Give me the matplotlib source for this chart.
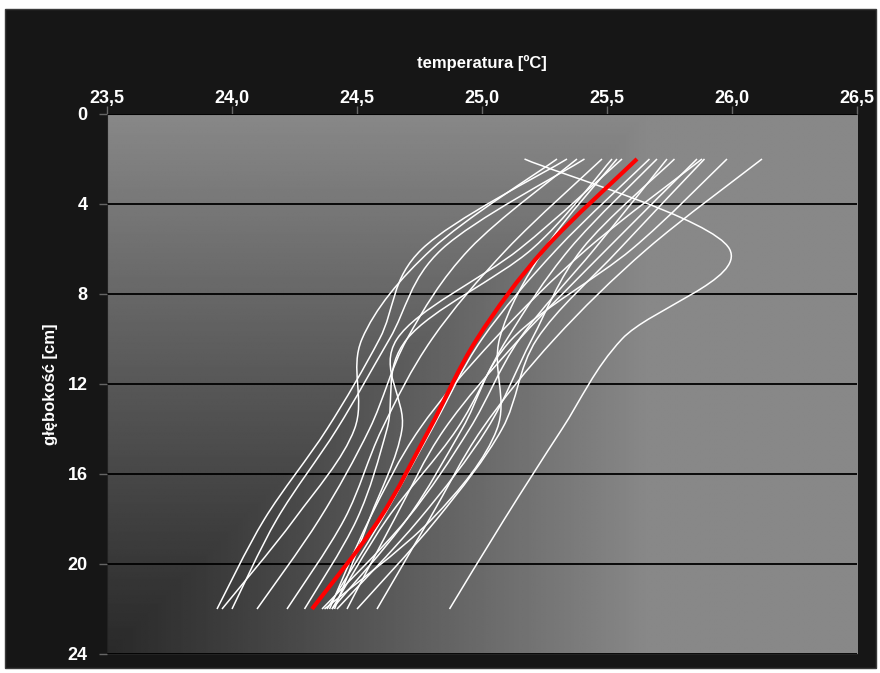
import numpy as np
import matplotlib
matplotlib.use('Agg')
import matplotlib.pyplot as plt
from matplotlib.path import Path
from matplotlib.patches import PathPatch, Rectangle

plt.rcParams['font.family'] = ['Liberation Sans', 'DejaVu Sans']

# depth of measurements [cm]
depths = [2, 6, 10, 14, 18, 22]

# temperature profiles [C], one list per series
profiles = [
    [25.17, 25.99, 25.56, 25.32, 25.09, 24.87],
    [26.12, 25.66, 25.29, 25.00, 24.79, 24.58],
    [25.34, 24.76, 24.59, 24.38, 24.13, 23.94],
    [25.41, 24.84, 24.63, 24.42, 24.18, 24.00],
    [25.30, 24.80, 24.52, 24.49, 24.25, 23.96],
    [25.38, 24.95, 24.70, 24.55, 24.35, 24.10],
    [25.48, 25.10, 24.80, 24.60, 24.45, 24.22],
    [25.52, 25.20, 24.70, 24.62, 24.50, 24.29],
    [25.54, 25.25, 25.07, 25.06, 24.80, 24.37],
    [25.56, 25.15, 24.66, 24.68, 24.55, 24.41],
    [25.67, 25.30, 25.00, 24.80, 24.60, 24.38],
    [25.70, 25.35, 25.10, 24.90, 24.62, 24.40],
    [25.74, 25.45, 25.15, 24.95, 24.70, 24.36],
    [25.77, 25.40, 25.20, 25.02, 24.75, 24.42],
    [25.86, 25.50, 25.15, 24.85, 24.65, 24.46],
    [25.88, 25.42, 25.05, 24.75, 24.55, 24.39],
    [25.89, 25.55, 25.22, 25.08, 24.82, 24.50],
    [25.98, 25.60, 25.12, 24.92, 24.70, 24.40],
]
mean_profile = [25.62, 25.25, 24.98, 24.79, 24.59, 24.32]

x_ticks = [23.5, 24.0, 24.5, 25.0, 25.5, 26.0, 26.5]
y_ticks = [0, 4, 8, 12, 16, 20, 24]


def smooth_path(xs, ys):
    # excel-like smoothed line drawn as cubic bezier segments
    pts = np.column_stack([xs, ys]).astype(float)
    n = len(pts)
    verts = [pts[0]]
    codes = [Path.MOVETO]
    for i in range(n - 1):
        p0 = pts[i - 1] if i > 0 else pts[i]
        p1 = pts[i]
        p2 = pts[i + 1]
        p3 = pts[i + 2] if i + 2 < n else pts[i + 1]
        verts += [p1 + (p2 - p0) / 6, p2 - (p3 - p1) / 6, p2]
        codes += [Path.CURVE4] * 3
    return Path(verts, codes)


fig = plt.figure(figsize=(8.8, 6.73), dpi=100)
fig.patch.set_facecolor('white')
fig.patches.append(Rectangle((5 / 880, 1 - 668 / 673), 871 / 880, 659 / 673,
                             transform=fig.transFigure, facecolor='#161616',
                             edgecolor='#3a3a3a', lw=1, zorder=-10))

ax = fig.add_axes([107 / 880, 1 - 654 / 673, 750 / 880, 540 / 673])
ax.set_zorder(1)
ax.set_facecolor('#808080')

# corner gradient background (dark bottom-left corner)
gx, gy = np.meshgrid(np.linspace(0, 1, 300), np.linspace(0, 1, 300))
v = np.clip(np.maximum(gx / 0.72, 1 - gy), 0, 1) ** 1.05
ax.imshow(42 + v * (136 - 42), cmap='gray', vmin=0, vmax=255,
          extent=[0, 1, 0, 1], transform=ax.transAxes, aspect='auto',
          interpolation='bilinear', zorder=0)

for row in profiles:
    ax.add_patch(PathPatch(smooth_path(row, depths), facecolor='none',
                           edgecolor='white', lw=1.1, zorder=3))
ax.add_patch(PathPatch(smooth_path(mean_profile, depths), facecolor='none',
                       edgecolor='#ff0000', lw=3, zorder=4))

ax.set_xlim(23.5, 26.5)
ax.set_ylim(24, 0)
ax.set_xticks(x_ticks)
ax.set_xticklabels([f'{t:.1f}'.replace('.', ',') for t in x_ticks])
ax.set_yticks(y_ticks)
ax.xaxis.tick_top()
ax.xaxis.set_label_position('top')
ax.tick_params(axis='both', colors='#666666', labelcolor='white',
               labelsize=13, length=6, width=1, direction='out')
ax.tick_params(axis='x', pad=-1)
ax.tick_params(axis='y', pad=8)
for lab in ax.get_xticklabels() + ax.get_yticklabels():
    lab.set_fontweight('bold')

ax.yaxis.grid(True, color='black', lw=1.3, zorder=2)
ax.set_axisbelow(False)
for side in ['top', 'left', 'bottom']:
    ax.spines[side].set_color('#222222')
ax.spines['right'].set_visible(False)

ax.set_xlabel('temperatura [ºC]', color='white', fontsize=12,
              fontweight='bold', labelpad=16)
ax.set_ylabel('głębokość [cm]', color='white', fontsize=12,
              fontweight='bold', labelpad=7)

fig.savefig('out.png', dpi=100, facecolor=fig.get_facecolor())
